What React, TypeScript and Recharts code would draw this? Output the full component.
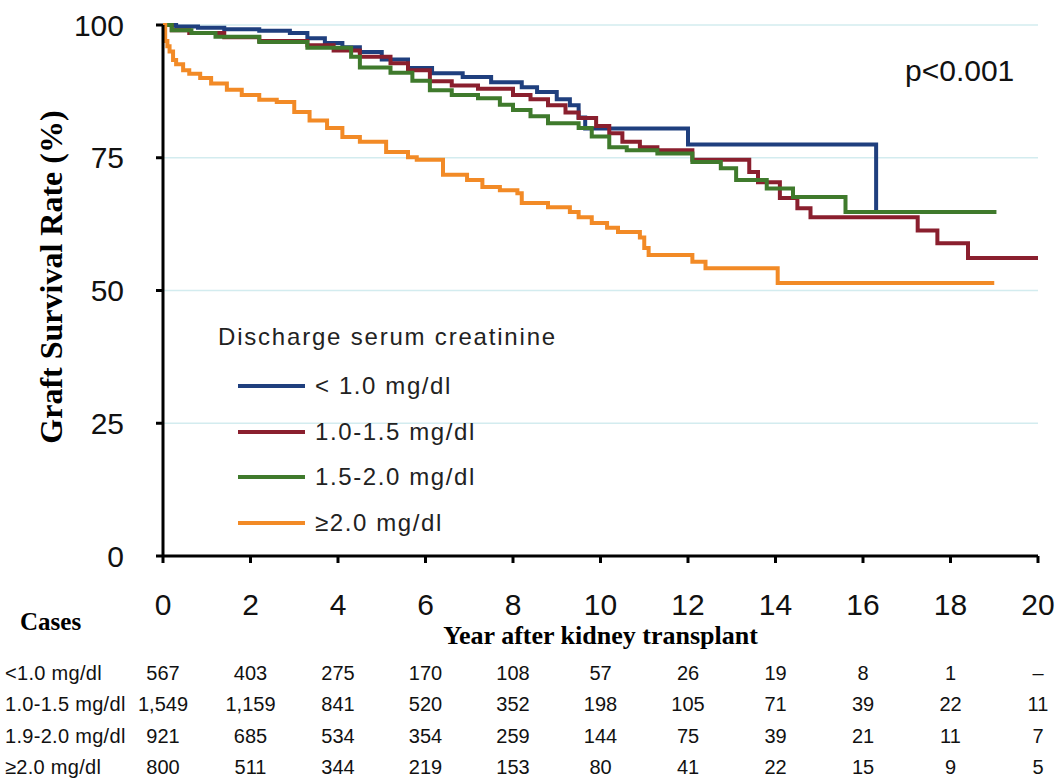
import React from "react";
import { CartesianGrid, Legend, Line, LineChart, XAxis, YAxis } from "recharts";

const groups = ["< 1.0 mg/dl", "1.0-1.5 mg/dl", "1.5-2.0 mg/dl", "≥2.0 mg/dl"];
const colors = ["#1f3f7e", "#8a1f2e", "#3f7a2c", "#f28a26"];

const yearTicks = [0, 2, 4, 6, 8, 10, 12, 14, 16, 18, 20];
const survTicks = [0, 25, 50, 75, 100];

// Kaplan-Meier steps (year, survival %)
const lowYears = [0, 0.3, 0.8, 1.4, 2.2, 2.9, 3.3, 3.7, 4.1, 4.5, 5.0, 5.6, 6.15, 6.85, 7.5, 8.2, 8.55, 9.0, 9.3, 9.5, 9.65, 12.0, 16.3, 16.4];
const lowSurv = [100, 99.7, 99.5, 99.2, 98.9, 98.5, 97.5, 96.6, 95.8, 94.9, 93.5, 91.9, 90.9, 90.2, 89.2, 88.3, 87.4, 86.0, 84.9, 82.6, 80.5, 77.5, 64.8, 64.8];

const midYears = [0, 0.2, 0.6, 1.4, 2.2, 3.3, 3.9, 4.5, 5.2, 5.6, 6.1, 6.6, 7.2, 8.0, 8.4, 8.8, 9.2, 9.5, 9.9, 10.2, 10.5, 10.9, 11.3, 12.1, 13.4, 13.6, 14.1, 14.5, 14.8, 17.25, 17.7, 18.4, 20];
const midSurv = [100, 99, 98.5, 97.7, 97, 96.2, 95.2, 94, 92.8, 91.5, 89.4, 88.6, 88, 86.8, 86, 84.9, 83.5, 82.5, 81, 79.6, 78, 77, 76.4, 74.6, 72.3, 70.4, 67.4, 65.5, 63.8, 61.3, 58.9, 56.1, 56.1];

const highYears = [0, 0.2, 0.65, 1.2, 2.2, 3.3, 4.3, 4.5, 5.2, 5.7, 6.1, 6.6, 7.2, 7.7, 8.0, 8.4, 8.8, 9.5, 9.8, 10.2, 10.6, 11.3, 12.1, 12.75, 13.1, 13.8, 14.4, 15.6, 19.05];
const highSurv = [100, 99, 98.5, 97.8, 96.8, 95.7, 94, 92, 91, 89.5, 87.7, 86.8, 86.2, 85, 84, 82.8, 81.5, 80.6, 79, 77, 76.4, 75.8, 74.2, 73, 70.8, 69.2, 67.6, 64.8, 64.8];

const topYears = [0, 0.05, 0.1, 0.15, 0.23, 0.3, 0.46, 0.6, 0.85, 1.1, 1.46, 1.8, 2.2, 2.6, 3.0, 3.35, 3.75, 4.1, 4.5, 5.1, 5.6, 5.8, 6.4, 6.95, 7.3, 7.7, 8.1, 8.2, 8.8, 9.3, 9.5, 9.8, 10.15, 10.4, 10.9, 11.0, 11.1, 12.1, 12.4, 14.05, 19.0];
const topSurv = [100, 97, 96, 95, 93.4, 92.6, 91.5, 90.8, 90, 89, 87.8, 86.8, 85.9, 85.5, 83.6, 82, 80.6, 78.9, 78, 76.1, 75.1, 74.6, 71.8, 70.8, 69.5, 68.9, 68.3, 66.5, 65.7, 64.8, 63.8, 62.7, 61.8, 61, 60, 58, 56.7, 55.4, 54.2, 51.4, 51.4];

// number at risk table
const rowLabels = ["<1.0 mg/dl", "1.0-1.5 mg/dl", "1.9-2.0 mg/dl", "≥2.0 mg/dl"];
const casesLow = ["567", "403", "275", "170", "108", "57", "26", "19", "8", "1", "–"];
const casesMid = ["1,549", "1,159", "841", "520", "352", "198", "105", "71", "39", "22", "11"];
const casesHigh = ["921", "685", "534", "354", "259", "144", "75", "39", "21", "11", "7"];
const casesTop = ["800", "511", "344", "219", "153", "80", "41", "22", "15", "9", "5"];

const toPoints = (years: number[], surv: number[]) =>
  years.map((t, i) => ({ t, s: surv[i] }));

const series = [
  toPoints(lowYears, lowSurv),
  toPoints(midYears, midSurv),
  toPoints(highYears, highSurv),
  toPoints(topYears, topSurv),
];
const tableRows = [casesLow, casesMid, casesHigh, casesTop];

const sans = "'Liberation Sans', Arial, Helvetica, sans-serif";
const serif = "'Liberation Serif', 'Times New Roman', serif";

const rowBase = 680;
const rowStep = 31.3;

// year tick plus the number-at-risk column under it
const YearTick = (props: any) => {
  const { x, y, payload, index } = props;
  return (
    <g>
      <text x={x} y={y} dy="0.71em" textAnchor="middle" fontFamily={sans} fontSize={30} fill="#111">
        {payload.value}
      </text>
      {tableRows.map((row, r) => (
        <text
          key={r}
          x={x}
          y={rowBase + r * rowStep}
          textAnchor="middle"
          fontFamily={sans}
          fontSize={20}
          fill="#111"
        >
          {row[index]}
        </text>
      ))}
    </g>
  );
};

const renderLegend = () => (
  <div style={{ fontFamily: sans, color: "#222" }}>
    <div style={{ fontSize: 24, letterSpacing: 1.8, lineHeight: "30px", marginBottom: 11 }}>
      Discharge serum creatinine
    </div>
    {groups.map((g, i) => (
      <div key={g} style={{ display: "flex", alignItems: "center", height: 45.7, marginLeft: 20 }}>
        <span style={{ display: "inline-block", width: 67, height: 4, background: colors[i], marginRight: 10 }} />
        <span style={{ fontSize: 24, letterSpacing: 1.6 }}>{g}</span>
      </div>
    ))}
  </div>
);

export default function App() {
  return (
    <div style={{ position: "absolute", left: 0, top: 0, background: "#fff" }}>
      <LineChart width={1060} height={779} margin={{ top: 25, right: 22, bottom: 128, left: 0 }}>
        <CartesianGrid vertical={false} stroke="#d3ecef" strokeWidth={1.5} />
        <XAxis
          dataKey="t"
          type="number"
          domain={[0, 20]}
          ticks={yearTicks}
          interval={0}
          allowDataOverflow
          height={95}
          stroke="#000"
          strokeWidth={3}
          tickSize={7}
          tickMargin={31}
          tick={<YearTick />}
          label={{
            value: "Year after kidney transplant",
            position: "insideBottom",
            offset: 7,
            style: { fontFamily: serif, fontWeight: "bold", fontSize: 26, fill: "#000" },
          }}
        />
        <YAxis
          type="number"
          domain={[0, 100]}
          ticks={survTicks}
          interval={0}
          width={163}
          stroke="#000"
          strokeWidth={3}
          tickSize={7}
          tickMargin={32}
          tick={{ fontSize: 30, fill: "#111", fontFamily: sans }}
        />
        {series.map((pts, i) => (
          <Line
            key={groups[i]}
            data={pts}
            dataKey="s"
            name={groups[i]}
            type="stepAfter"
            stroke={colors[i]}
            strokeWidth={4}
            dot={false}
            activeDot={false}
            isAnimationActive={false}
          />
        ))}
        <Legend
          layout="horizontal"
          verticalAlign="middle"
          align="center"
          content={renderLegend}
          wrapperStyle={{ position: "absolute", left: 218, top: 322, width: 420, height: 240 }}
        />
        <text
          transform="translate(62,277) rotate(-90)"
          textAnchor="middle"
          fontFamily={serif}
          fontWeight="bold"
          fontSize={32}
          fill="#000"
        >
          Graft Survival Rate (%)
        </text>
        <text x={905} y={81} fontFamily={sans} fontSize={30} fill="#111">
          p&lt;0.001
        </text>
        <text x={20} y={630} fontFamily={serif} fontWeight="bold" fontSize={25} fill="#000">
          Cases
        </text>
        {rowLabels.map((lab, r) => (
          <text key={lab} x={5} y={rowBase + r * rowStep} fontFamily={sans} fontSize={20} letterSpacing={0.3} fill="#111">
            {lab}
          </text>
        ))}
      </LineChart>
    </div>
  );
}
